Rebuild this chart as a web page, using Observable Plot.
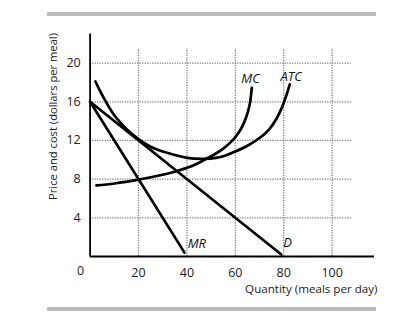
<!DOCTYPE html>
<html>
<head>
<meta charset="utf-8">
<script src="https://cdn.jsdelivr.net/npm/d3@7"></script>
<script src="https://cdn.jsdelivr.net/npm/@observablehq/plot@0.6"></script>
<style>
  html, body { margin: 0; padding: 0; background: #fff; }
  #wrap { position: relative; width: 414px; height: 324px; overflow: hidden; }
  .bar { position: absolute; left: 47px; width: 329px; height: 4px; background: #bdbdbd; }
  svg { font-family: "Open Sans", sans-serif; }
</style>
</head>
<body>
<div id="wrap">
  <div class="bar" style="top:12px"></div>
  <div class="bar" style="top:307px"></div>
</div>
<script>
// Demand curve D
const dQ = [0, 79];
const dP = [16, 0.2];
// Marginal revenue MR
const mrQ = [0, 39];
const mrP = [16, 0.4];
// Marginal cost MC
const mcQ = [2.6, 10, 20, 30, 36, 41, 45, 48, 52, 55, 58, 60, 62, 63.7, 65, 66, 66.8];
const mcP = [7.35, 7.55, 7.95, 8.45, 8.85, 9.25, 9.7, 10.1, 10.65, 11.15, 11.8, 12.35, 13.05, 13.9, 14.8, 15.8, 17.45];
// Average total cost ATC
const atcQ = [2.2, 5, 10, 15, 20, 25, 30, 35, 40, 47, 52, 56, 60, 65, 70, 74, 77, 79.5, 81.2, 82.5];
const atcP = [18.1, 16.7, 14.6, 13.2, 12.15, 11.35, 10.85, 10.5, 10.2, 10.1, 10.2, 10.45, 10.85, 11.45, 12.25, 13.15, 14.25, 15.55, 16.75, 17.8];
// Ticks
const xTicks = [20, 40, 60, 80, 100];
const yTicks = [4, 8, 12, 16, 20];
// Curve labels (centred)
const centredLabels = ["MC", "ATC", "D"];
const centredQ = [66.3, 83.1, 81.6];
const centredP = [18.4, 18.6, 1.4];
// Curve label (left-aligned)
const mrLabel = "MR";
const mrLabelQ = 40.3;
const mrLabelP = 1.3;
const xTitle = "Quantity (meals per day)";
const yTitle = "Price and cost (dollars per meal)";

const pts = (qs, ps) => qs.map((q, i) => ({q, p: ps[i]}));
const centred = centredLabels.map((t, i) => ({t, q: centredQ[i], p: centredP[i]}));

const gridStyle = {stroke: "#777", strokeWidth: 1.2, strokeDasharray: "1.2,1.3"};
const curveStyle = {x: "q", y: "p", stroke: "#000", strokeWidth: 2.7, curve: "catmull-rom", strokeLinecap: "round"};
const labelStyle = {x: "q", y: "p", text: "t", fontStyle: "italic", fontSize: 13, fill: "#111"};

const chart = Plot.plot({
  width: 414,
  height: 324,
  marginLeft: 89.6,
  marginRight: 40,
  marginTop: 33.6,
  marginBottom: 68,
  x: {type: "linear", domain: [0, 117.5], axis: null},
  y: {type: "linear", domain: [0, 23], axis: null},
  style: {background: "transparent", fontFamily: "'Open Sans', sans-serif", overflow: "visible"},
  marks: [
    Plot.ruleY(yTicks, {x1: 0, x2: 108, ...gridStyle}),
    Plot.ruleX(xTicks, {y1: 0, y2: 21.5, ...gridStyle}),
    Plot.ruleX([0], {y1: 0, y2: 23, stroke: "#000", strokeWidth: 1.8}),
    Plot.ruleY([0], {x1: 0, x2: 117.5, stroke: "#000", strokeWidth: 1.8}),
    Plot.line(pts(dQ, dP), {...curveStyle, curve: "linear"}),
    Plot.line(pts(mrQ, mrP), {...curveStyle, curve: "linear"}),
    Plot.line(pts(mcQ, mcP), curveStyle),
    Plot.line(pts(atcQ, atcP), curveStyle),
    Plot.text(centred, {...labelStyle, textAnchor: "middle"}),
    Plot.text([{t: mrLabel, q: mrLabelQ, p: mrLabelP}], {...labelStyle, textAnchor: "start"}),
    Plot.text(yTicks, {x: 0, y: d => d, text: d => String(d), textAnchor: "end", dx: -9.4, fontSize: 12.5, fill: "#222"}),
    Plot.text(xTicks, {x: d => d, y: 0, text: d => String(d), dy: 16.5, fontSize: 12.5, fill: "#222"}),
    Plot.text([0], {x: 0, y: 0, text: d => String(d), dx: -9.6, dy: 14.5, fontSize: 12.5, fill: "#222"}),
    Plot.text([xTitle], {frameAnchor: "bottom-right", textAnchor: "end", dx: 3, dy: 36, fontSize: 11.6, fill: "#222"}),
    Plot.text([yTitle], {frameAnchor: "left", textAnchor: "middle", rotate: -90, dx: -36.6, dy: -28.8, fontSize: 11.2, fill: "#222"})
  ]
});
chart.style.position = "absolute";
chart.style.left = "0px";
chart.style.top = "0px";
document.getElementById("wrap").appendChild(chart);
</script>
</body>
</html>
